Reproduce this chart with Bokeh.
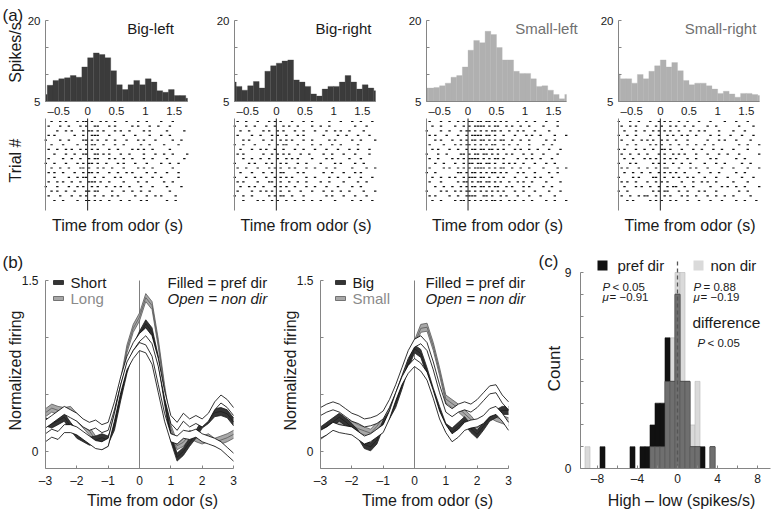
import numpy as np
from bokeh.plotting import figure
from bokeh.layouts import row, column
from bokeh.models import Range1d, FixedTicker, Label
from bokeh.embed import file_html
from bokeh.resources import INLINE

FONT = "Liberation Sans"
TXT = "#1a1a1a"
AXC = "#858585"

# ---------------- data: (a) PSTHs ----------------
hist_centers = [-0.75, -0.65, -0.55, -0.45, -0.35, -0.25, -0.15, -0.05, 0.05, 0.15,
                0.25, 0.35, 0.45, 0.55, 0.65, 0.75, 0.85, 0.95, 1.05, 1.15,
                1.25, 1.35, 1.45, 1.55, 1.65, 1.75]
hist_bin_width = 0.1
big_left = [6.3, 8.0, 8.9, 9.2, 9.4, 9.8, 9.5, 11.4, 13.1, 14.0, 13.7, 13.1, 10.7,
            8.1, 7.2, 8.1, 8.9, 8.1, 9.2, 8.6, 7.0, 6.7, 7.2, 6.1, 6.1, 5.6]
big_right = [8.6, 7.8, 7.1, 7.9, 8.7, 7.5, 10.6, 11.6, 12.1, 12.5, 12.7, 9.0, 8.6,
             7.8, 6.4, 6.0, 7.3, 7.8, 7.8, 8.6, 9.8, 8.6, 7.3, 8.1, 7.5, 7.0]
small_left = [7.5, 7.5, 7.6, 7.9, 8.4, 9.5, 9.8, 11.4, 14.5, 16.3, 15.9, 18.0, 17.4,
              15.0, 12.7, 12.7, 10.6, 10.2, 10.2, 9.2, 7.8, 7.9, 7.1, 6.3, 5.5, 6.3]
small_right = [10.1, 9.2, 9.2, 8.4, 10.0, 9.2, 10.6, 11.6, 12.7, 11.4, 12.2, 10.7, 8.9,
               8.1, 8.4, 8.4, 7.9, 7.3, 6.5, 6.9, 6.4, 5.8, 6.5, 6.5, 6.3, 6.1]
hist_names = ["Big-left", "Big-right", "Small-left", "Small-right"]
hist_ticks = [-0.5, 0, 0.5, 1, 1.5]
rate_ticks = [5, 10, 15, 20]

# raster rows: each char = 0.05 s bin starting at -0.75 s, "1" = spike
raster_bin = 0.05
raster_start = -0.75
raster_big_left = [
    "..1..1.1.. .1.11.1..1 .1..1...1. ..1..1.... 1...1.....",
    ".1...1..1. ..1.1..11. ..1.1..... 1.1...1..1 ...1......",
    "....1..1.1 ...1.11.1. 1...1.1..1 ....1.1... ..1.....1.",
    ".1.1...... 1..1..111. ..1....1.. .1....1... 1..1......",
    "1....1..1. ...11.1.1. .1..1...1. ..1.1...1. ....1..1..",
    "..1...1... .1..1.11.. 1...1..1.. ...1..1... .1....1...",
    ".1..1..1.1 ..1.1.1.1. ..1..1.... 1.1.1..1.. ...1......",
    "...1...1.. 1..11..11. 1.1...1..1 ....1...1. .1..1....1",
    ".1....1..1 ..1..1.11. ..1.1..1.. 1...1..1.. ..1.....1.",
    "1..1...1.. .1.1.11.1. .1...1.1.. .1...1.... 1..1..1...",
    "..1..1..1. ..11.1..1. 1..1...1.. ..1.1..1.. ....1.....",
    ".1.1..1... 1..1.11.1. ..1..1..1. 1....1..1. ..1...1...",
    "...1....1. .1.11..1.. 1...1.1... .1.1...1.. 1.....1...",
    ".1..1.1..1 ..1..111.1 ..1....1.. ..1..1.... .1..1.....",
    "1...1...1. .1.1..1.1. .1..1.1..1 ...1...1.. ..1....1..",
    "..1.1..1.. 1...11.11. ...1...1.. 1..1..1... ...1......",
    ".1...1...1 ..1.1..1.. 1..1.1.... .1...1..1. 1....1....",
    "...1..1... .1..11.1.1 ..1...1..1 ...1.1.... ..1..1....",
]
raster_big_right = [
    ".1..1...1. ..1.1.1... 1...1..1.. ...1...1.. .1..1...1.",
    "1...1..1.. .1..1..1.1 ..1....1.. 1..1...... ..1...1...",
    "..1..1.... 1.1..1.1.. .1..1...1. ..1..1.1.. 1....1....",
    ".1....1..1 ...1.1..1. ..1.1..... .1....1..1 ...1...1..",
    "...1.1.... 1..1..1.1. 1...1..1.. ...1.1.... .1..1....1",
    "1..1...1.. ..1..1.11. ..1....1.. 1...1..1.. ...1......",
    "..1...1..1 .1..1..1.. .1..1...1. ..1...1... 1..1...1..",
    ".1.1...... 1..1.1.1.1 ...1..1... .1..1...1. ..1....1..",
    "...1..1..1 ..1..1..1. 1.1....1.. ..1.1..... 1...1.....",
    "1....1.1.. .1.1..1.1. ..1..1.... 1....1.1.. ..1..1....",
    ".1..1...1. ..1.1.1..1 .1...1..1. ..1..1.... .1....1..1",
    "..1...1... 1..1..11.. ..1.1..... .1..1...1. ..1.1.....",
    "1...1..1.. .1..1.1.1. 1....1..1. ...1..1... 1...1...1.",
    ".1.1....1. ..11..1..1 ..1..1.... 1..1....1. ...1..1...",
    "..1..1.1.. 1...1.1.1. .1...1..1. ..1...1... .1..1.....",
    ".1....1..1 .1.1..1..1 ...1...1.. .1..1..1.. 1....1...1",
    "1..1..1... ..1.1.11.. 1...1..... ..1.1...1. ..1...1...",
    "...1....1. 1..1.1..1. .1..1..1.. 1....1.... .1..1...1.",
]
raster_small_left = [
    ".1...1..1. .1.1.11.11 .11.1.1.1. ..1..1..1. ..1...1...",
    "..1..1.... 1..1.1.111 1.1.11..1. 1..1..1... .1....1...",
    "1....1..1. ..1.11.1.1 .1.11.1..1 ..1.1...1. ...1......",
    ".1.1...1.. .1..1.1111 .11.1..1.. .1...1.1.. 1....1...1",
    "...1.1...1 ..1.1.11.1 1.1.1.11.. 1..1..1... ..1..1....",
    ".1....1... 1.1.11.1.1 .1.11..1.1 ..1...1... .1..1.....",
    "..1.1...1. .1..1.11.1 1.11.1.1.. .1.1..1..1 ...1...1..",
    "1...1..1.. ..11.1.11. 11.1.1..1. 1...1..1.. .1....1...",
    ".1..1....1 .1.1.1111. 1.1.11.1.. ..1..1.1.. 1...1.....",
    "...1..1... 1..1.11.11 .11.1..1.1 .1..1...1. ..1..1....",
    ".1....1.1. .1.1.1.111 1.1.1.11.. 1..1..1... .1....1..1",
    "1..1...... .11.1.11.1 .1.11.1.1. ..1.1...1. ...1..1...",
    "..1..1..1. 1..1.111.1 1.1..1.1.. .1...1..1. 1...1.....",
    ".1...1.... .1.11.1.11 .11.1.1..1 ..1.1..1.. ..1....1..",
    "...1..1..1 ..1.1.11.1 1.1.11..1. 1...1.1... .1..1.....",
    "1....1.1.. 1.1.11.1.1 .1.1.1.1.. .1..1...1. ...1...1..",
    ".1.1....1. .1..1111.. 11.1..1.1. ..1...1... 1....1....",
    "..1..1.... 1.11.1.1.1 .1.11.1..1 .1..1..1.. ..1..1...1",
]
raster_small_right = [
    "1...1..1.. .1..1.1.1. .1..1...1. ..1....1.. .1...1....",
    ".1..1.1... 1..1.1..1. 1..1..1... .1..1..... ..1....1..",
    "..1...1..1 ..1.1.1.1. .1...1..1. 1....1.... 1...1.....",
    "1..1..1... .1..1..1.1 ..1.1..1.. ..1..1...1 ...1...1..",
    ".1...1..1. 1.1..1.1.. 1...1..... .1...1.1.. .1....1...",
    "...1..1... .1.1.1..1. .1..1..1.. 1..1...... ..1..1...1",
    "1.1...1..1 ..1..11.1. ..1...1..1 ...1..1... 1....1....",
    ".1..1..1.. 1...1.1..1 .1.1...1.. .1...1..1. ..1......1",
    "..1..1...1 .1.1..1.1. 1...1..1.. ..1.1..... .1..1.....",
    "1...1.1... ..1.1.1..1 ..1..1.... 1...1..1.. ...1..1...",
    ".1.1...1.. 1..1..11.. .1...1.1.. .1....1... 1....1...1",
    "..1..1..1. .1..1.1.1. 1..1....1. ..1..1.... .1..1.....",
    "1....1.1.. ..11..1..1 .1..1.1... 1...1...1. ...1...1..",
    ".1.1..1... 1..1.1.1.. ..1...1..1 .1..1..... 1....1....",
    "..1...1.1. .1..1..1.1 1..1..1... ..1...1.1. .1..1....1",
    "1..1...... ..1.1.11.. .1..1...1. 1...1..... ..1..1....",
    ".1..1..1.1 1..1..1.1. ..1.1..1.. .1..1..1.. 1.....1...",
    "...1.1.... .1.1.1..1. 1...1...1. ..1...1... .1..1...1.",
]
rasters = [raster_big_left, raster_big_right, raster_small_left, raster_small_right]

# ---------------- data: (b) population curves ----------------
t_axis = [-3.0, -2.8, -2.6, -2.4, -2.2, -2.0, -1.8, -1.6, -1.4, -1.2, -1.0, -0.8, -0.6,
          -0.4, -0.2, 0.0, 0.2, 0.4, 0.6, 0.8, 1.0, 1.2, 1.4, 1.6, 1.8, 2.0, 2.2, 2.4,
          2.6, 2.8, 3.0]
short_pref = [0.26, 0.24, 0.27, 0.30, 0.22, 0.15, 0.12, 0.09, 0.10, 0.12, 0.10, 0.22, 0.48,
              0.72, 0.90, 1.02, 1.12, 1.05, 0.80, 0.45, 0.12, -0.05, 0.00, 0.08, 0.15, 0.24,
              0.28, 0.34, 0.35, 0.33, 0.26]
long_pref = [0.34, 0.38, 0.36, 0.35, 0.36, 0.30, 0.24, 0.18, 0.10, 0.05, 0.08, 0.30, 0.60,
             0.90, 1.08, 1.18, 1.35, 1.28, 0.95, 0.55, 0.20, 0.05, 0.08, 0.15, 0.12, 0.10,
             0.12, 0.08, 0.10, 0.12, 0.15]
short_non = [0.24, 0.28, 0.32, 0.36, 0.33, 0.30, 0.25, 0.22, 0.24, 0.20, 0.22, 0.40, 0.62,
             0.80, 0.92, 1.00, 1.05, 0.98, 0.78, 0.50, 0.28, 0.22, 0.30, 0.25, 0.28, 0.25,
             0.30, 0.40, 0.46, 0.42, 0.35]
long_non = [0.12, 0.16, 0.14, 0.20, 0.20, 0.18, 0.14, 0.10, 0.06, 0.05, 0.08, 0.30, 0.55,
            0.75, 0.85, 0.92, 0.90, 0.80, 0.55, 0.30, 0.12, 0.10, 0.15, 0.14, 0.16, 0.12,
            0.10, 0.08, 0.05, 0.00, -0.05]
big_pref = [0.18, 0.22, 0.26, 0.30, 0.26, 0.21, 0.15, 0.06, 0.04, 0.10, 0.24, 0.32, 0.42,
            0.58, 0.76, 0.90, 0.86, 0.70, 0.52, 0.36, 0.21, 0.17, 0.22, 0.27, 0.20, 0.15,
            0.22, 0.30, 0.33, 0.36, 0.36]
small_pref = [0.14, 0.18, 0.24, 0.27, 0.25, 0.23, 0.20, 0.18, 0.16, 0.22, 0.30, 0.38, 0.50,
              0.65, 0.82, 0.94, 1.08, 1.09, 0.92, 0.70, 0.46, 0.42, 0.38, 0.33, 0.28, 0.21,
              0.26, 0.33, 0.30, 0.28, 0.26]
big_non = [0.35, 0.38, 0.40, 0.38, 0.34, 0.30, 0.28, 0.25, 0.26, 0.28, 0.32, 0.42, 0.55,
           0.70, 0.85, 0.95, 0.98, 0.92, 0.75, 0.55, 0.38, 0.34, 0.38, 0.40, 0.38, 0.42,
           0.48, 0.54, 0.55, 0.46, 0.40]
small_non = [0.15, 0.18, 0.22, 0.20, 0.19, 0.18, 0.14, 0.10, 0.12, 0.16, 0.20, 0.32, 0.48,
             0.62, 0.72, 0.78, 0.74, 0.66, 0.50, 0.32, 0.20, 0.12, 0.16, 0.22, 0.24, 0.25,
             0.28, 0.34, 0.36, 0.30, 0.22]
sem_pref = 0.035
sem_non = 0.035
time_ticks = [-3, -2, -1, 0, 1, 2, 3]
norm_ticks = [0, 0.5, 1, 1.5]

# ---------------- data: (c) histogram ----------------
diff_centers = [-9.0, -7.5, -4.5, -3.5, -3.0, -2.5, -2.0, -1.5, -1.0, -0.5, 0.0, 0.5, 1.0,
                1.5, 2.0, 2.5, 3.5]
diff_bin_width = 0.5
pref_counts = [0, 1, 1, 1, 1, 2, 3, 3, 6, 4, 8, 4, 4, 1, 1, 1, 1]
non_counts = [1, 0, 0, 0, 0, 1, 1, 1, 4, 6, 9, 9, 4, 2, 4, 0, 1]
diff_ticks = [-8, -6, -4, -2, 0, 2, 4, 6, 8]
count_ticks = [0, 1, 2, 3, 4, 5, 6, 7, 8, 9]


# ---------------- helpers ----------------
def make_fig(canvas, vbox, vx, vy, **kw):
    """Figure whose frame is the whole canvas; the axes box (vbox, in page px)
    shows data ranges vx, vy."""
    CL, CT, CR, CB = canvas
    FL, FT, FR, FB = vbox
    sx = (FR - FL) / (vx[1] - vx[0])
    sy = (FB - FT) / (vy[1] - vy[0])
    x0 = vx[0] - (FL - CL) / sx
    x1 = vx[1] + (CR - FR) / sx
    y0 = vy[0] - (CB - FB) / sy
    y1 = vy[1] + (FT - CT) / sy
    p = figure(width=CR - CL, height=CB - CT, x_range=Range1d(x0, x1),
               y_range=Range1d(y0, y1), title=None, output_backend="svg",
               toolbar_location=None, tools="", min_border=0, **kw)
    p.min_border_left = 0
    p.min_border_right = 0
    p.min_border_top = 0
    p.min_border_bottom = 0
    p.grid.visible = False
    p.outline_line_color = None
    p.background_fill_color = "white"
    p.border_fill_color = "white"

    def conv(ix, iy):
        return x0 + (ix - CL) / sx, y1 - (iy - CT) / sy

    def px(dx, dy):  # size in px -> data
        return dx / sx, dy / sy

    return p, conv, px


def style_axis(ax, size="12px"):
    ax.axis_line_color = AXC
    ax.axis_line_width = 1
    ax.major_tick_line_color = AXC
    ax.minor_tick_line_color = None
    ax.major_tick_in = 3
    ax.major_tick_out = 0
    ax.major_label_text_font = FONT
    ax.major_label_text_font_size = size
    ax.major_label_text_color = TXT


def lab(p, conv, ix, iy, text, size, color=TXT, angle=0.0, align="left", style="normal"):
    x, y = conv(ix, iy)
    p.add_layout(Label(x=x, y=y, text=text, text_font=FONT,
                       text_font_size=f"{size}px", text_color=color, angle=angle,
                       text_align=align, text_baseline="middle", text_font_style=style))


# ---------------- (a) ----------------
canvas_x = [(0, 192), (192, 380), (380, 585), (585, 779)]
frame_x = [(45, 187), (234, 375), (426, 566), (618, 759)]
XR = (-0.73, 1.73)
RASTER_Y = (-1.15, 18.65)
hist_vals = [big_left, big_right, small_left, small_right]
hist_col = ["#3b3b3b", "#3b3b3b", "#b0b0b0", "#b0b0b0"]
title_col = ["#1a1a1a", "#1a1a1a", "#707070", "#707070"]
title_px = [150, 343, 546, 720]

cols = []
for i in range(4):
    (CL, CR), (FL, FR) = canvas_x[i], frame_x[i]
    hp, hc, hpx = make_fig((CL, 0, CR, 116), (FL, 20, FR, 101), XR, (5, 20))
    left = [max(c - hist_bin_width / 2, XR[0]) for c in hist_centers]
    right = [min(c + hist_bin_width / 2, XR[1]) for c in hist_centers]
    hp.quad(left=left, right=right, top=hist_vals[i], bottom=5,
            fill_color=hist_col[i], line_color=hist_col[i], line_width=0.3)
    style_axis(hp.xaxis[0], "11.5px")
    style_axis(hp.yaxis[0], "11.5px")
    hp.xaxis.fixed_location = 5
    hp.xaxis.bounds = XR
    hp.xaxis.ticker = FixedTicker(ticks=hist_ticks)
    hp.xaxis.major_label_overrides = {-0.5: "\u20130.5"}
    hp.xaxis.major_tick_in = 0
    hp.xaxis.major_label_standoff = 3
    hp.yaxis.fixed_location = XR[0]
    hp.yaxis.bounds = (5, 20)
    hp.yaxis.ticker = FixedTicker(ticks=rate_ticks)
    hp.yaxis.major_label_overrides = {10: "", 15: ""}
    hp.yaxis.major_label_standoff = 5
    lab(hp, hc, title_px[i], 28, hist_names[i], 15, color=title_col[i], align="center")
    if i == 0:
        lab(hp, hc, 2, 15, "(a)", 17)
        lab(hp, hc, 15, 52, "Spikes/s", 16, angle=np.pi / 2, align="center")

    rp, rc, rpx = make_fig((CL, 116, CR, 235), (FL, 118, FR, 210), XR, RASTER_Y,
                           x_axis_location=None)
    xs, ys = [], []
    for r, rowstr in enumerate(rasters[i]):
        s = rowstr.replace(" ", "")
        for k, ch in enumerate(s):
            if ch == "1":
                xs.append(raster_start + raster_bin * (k + 0.5))
                ys.append(len(rasters[i]) - r)
    dw, dh = rpx(2.4, 1.2)
    rp.rect(x=xs, y=ys, width=dw, height=dh, fill_color="#111111", line_color=None)
    rp.segment(x0=[0], y0=[RASTER_Y[0]], x1=[0], y1=[RASTER_Y[1]], line_color="#222222",
               line_width=1)
    style_axis(rp.yaxis[0])
    rp.yaxis.fixed_location = XR[0]
    rp.yaxis.bounds = RASTER_Y
    rp.yaxis.ticker = FixedTicker(ticks=[])
    rp.yaxis.major_tick_in = 0
    lab(rp, rc, (FL + FR) / 2 + 1, 225, "Time from odor (s)", 16, align="center")
    if i == 0:
        lab(rp, rc, 15, 160, "Trial #", 16, angle=np.pi / 2, align="center")
    cols.append(column(hp, rp))

row1 = row(*cols)


# ---------------- (b) ----------------
def band(p, mean, sem, fill, edge, open_band):
    m = np.array(mean)
    lo = m - sem
    hi = m + sem
    if not open_band:
        p.varea(x=t_axis, y1=lo, y2=hi, fill_color=fill)
        p.line(t_axis, lo, line_color=edge, line_width=0.8)
        p.line(t_axis, hi, line_color=edge, line_width=0.8)
        p.line(t_axis, m, line_color=edge, line_width=0.8)
    else:
        p.varea(x=t_axis, y1=lo, y2=hi, fill_color="white")
        p.line(t_axis, lo, line_color="black", line_width=0.8)
        p.line(t_axis, hi, line_color="black", line_width=0.8)


NR = (-0.15, 1.5)


def bfig(canvas_lr, frame_lr, curves, names, name_px, note_px):
    CL, CR = canvas_lr
    FL, FR = frame_lr
    p, c, pxs = make_fig((CL, 235, CR, 515), (FL, 280, FR, 468), (-3, 3), NR)
    style_axis(p.xaxis[0])
    style_axis(p.yaxis[0])
    p.xaxis.fixed_location = NR[0]
    p.xaxis.bounds = (-3, 3)
    p.xaxis.ticker = FixedTicker(ticks=time_ticks)
    p.xaxis.major_label_overrides = {-3: "\u20133", -2: "\u20132", -1: "\u20131"}
    p.xaxis.major_label_standoff = 5
    p.yaxis.fixed_location = -3
    p.yaxis.bounds = NR
    p.yaxis.ticker = FixedTicker(ticks=norm_ticks)
    p.yaxis.major_label_overrides = {0.5: "", 1: ""}
    p.yaxis.major_label_standoff = 7
    p.segment(x0=[0], y0=[NR[0]], x1=[0], y1=[NR[1]], line_color="#808080", line_width=1)
    sp, lp, sn, ln = curves
    band(p, lp, sem_pref, "#a8a8a8", "#5a5a5a", False)
    band(p, sp, sem_pref, "#343434", "#1e1e1e", False)
    band(p, sn, sem_non, None, None, True)
    band(p, ln, sem_non, None, None, True)
    # legend swatches
    w, h = pxs(10, 4)
    for k, (fc, lc, tc) in enumerate([("#343434", "#1e1e1e", TXT),
                                      ("#a8a8a8", "#5a5a5a", "#8a8a8a")]):
        yy = 282 + 16 * k
        sx_, sy_ = c(name_px - 12, yy)
        p.rect(x=[sx_], y=[sy_], width=w, height=h, fill_color=fc, line_color=lc,
               line_width=0.8)
        lab(p, c, name_px, yy, names[k], 15, color=tc)
    lab(p, c, note_px, 282, "Filled = pref dir", 15)
    lab(p, c, note_px, 298, "Open = non dir", 15, style="italic")
    lab(p, c, FL - 30, 370, "Normalized firing", 16, angle=np.pi / 2, align="center")
    lab(p, c, FL + 107, 500, "Time from odor (s)", 16, align="center")
    return p, c


bL, bLc = bfig((0, 275), (45, 233), [short_pref, long_pref, short_non, long_non],
               ["Short", "Long"], 70, 167)
lab(bL, bLc, 2, 262, "(b)", 17)
bR, bRc = bfig((275, 536), (320, 508), [big_pref, small_pref, big_non, small_non],
               ["Big", "Small"], 352, 425)

# ---------------- (c) ----------------
CXR = (-9.7, 9.3)
CYR = (0, 9)
cp, cc, cpx = make_fig((536, 235, 779, 515), (580, 272, 770, 468), CXR, CYR)
overlap = [min(a, b) for a, b in zip(pref_counts, non_counts)]
cp.vbar(x=diff_centers, top=non_counts, bottom=0, width=diff_bin_width,
        fill_color="#dadada", line_color="#b8b8b8", line_width=0.6)
cp.vbar(x=diff_centers, top=pref_counts, bottom=0, width=diff_bin_width,
        fill_color="#111111", line_color="#111111", line_width=0.6)
cp.vbar(x=diff_centers, top=overlap, bottom=0, width=diff_bin_width,
        fill_color="#6f6f6f", line_color="#555555", line_width=0.6)
_, dash_top = cc(677, 258)
cp.segment(x0=[0], y0=[0], x1=[0], y1=[dash_top], line_color="#555555", line_width=1.3,
           line_dash="4 3")
style_axis(cp.xaxis[0])
style_axis(cp.yaxis[0])
cp.xaxis.fixed_location = 0
cp.xaxis.bounds = CXR
cp.xaxis.ticker = FixedTicker(ticks=diff_ticks)
cp.xaxis.major_label_overrides = {-8: "\u20138", -6: "", -4: "\u20134", -2: "", 2: "",
                                  6: ""}
cp.xaxis.major_label_standoff = 3
cp.yaxis.fixed_location = CXR[0]
cp.yaxis.bounds = CYR
cp.yaxis.ticker = FixedTicker(ticks=count_ticks)
cp.yaxis.major_label_overrides = {1: "", 2: "", 3: "", 4: "", 5: "", 6: "", 7: "", 8: ""}
cp.yaxis.major_label_standoff = 9
sqw, sqh = cpx(10, 10)
for ix, fc, txt, tx in [(602, "#111111", "pref dir", 617), (698, "#dadada", "non dir", 710)]:
    qx, qy = cc(ix, 265)
    cp.rect(x=[qx], y=[qy], width=sqw, height=sqh, fill_color=fc, line_color=None)
    lab(cp, cc, tx, 265, txt, 15)
lab(cp, cc, 602, 286, "P", 11.5, style="italic")
lab(cp, cc, 612, 286, "< 0.05", 11.5)
lab(cp, cc, 602, 296, "\u03bc", 11.5, style="italic")
lab(cp, cc, 609, 296, "= \u22120.91", 11.5)
lab(cp, cc, 693, 286, "P", 11.5, style="italic")
lab(cp, cc, 703, 286, "= 0.88", 11.5)
lab(cp, cc, 693, 296, "\u03bc", 11.5, style="italic")
lab(cp, cc, 700, 296, "= \u22120.19", 11.5)
lab(cp, cc, 692, 322, "difference", 15.5)
lab(cp, cc, 697, 342, "P", 11.5, style="italic")
lab(cp, cc, 707, 342, "< 0.05", 11.5)
lab(cp, cc, 538, 261, "(c)", 17)
lab(cp, cc, 554, 368, "Count", 17, angle=np.pi / 2, align="center")
lab(cp, cc, 681, 500, "High \u2013 low (spikes/s)", 16, align="center")

row2 = row(bL, bR, cp)
layout = column(row1, row2)

open("out.html", "w").write(file_html(layout, INLINE))
